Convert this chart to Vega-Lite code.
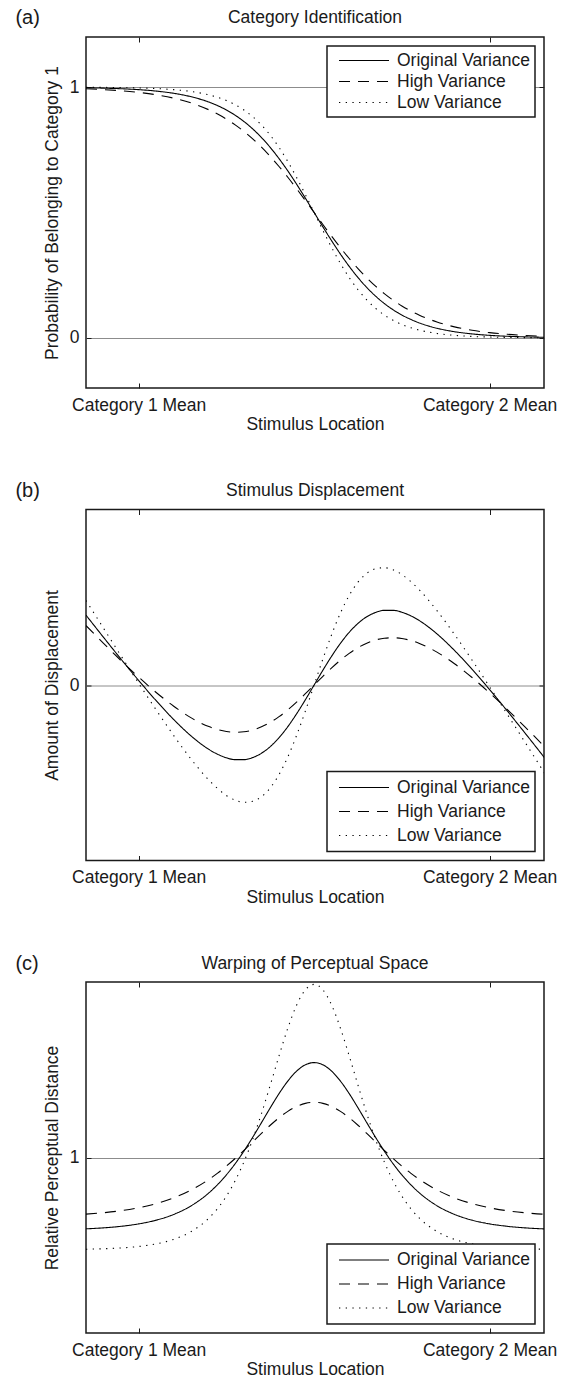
{
"$schema": "https://vega.github.io/schema/vega-lite/v6.json",
"padding": {"left": 14, "top": 7, "right": 4, "bottom": 0},
"background": "white",
"config": {
  "font": "Liberation Sans",
  "view": {"stroke": "#1a1a1a", "strokeWidth": 1.5},
  "axis": {"labelFont": "Liberation Sans", "titleFont": "Liberation Sans", "labelFontSize": 17.5, "titleFontSize": 17.5, "titleFontWeight": "normal", "labelColor": "#1a1a1a", "titleColor": "#1a1a1a", "tickColor": "#1a1a1a", "tickSize": -5, "tickWidth": 1, "domain": false, "grid": false, "labelFlush": false, "labelOverlap": false, "format": "d"},
  "legend": {"strokeColor": "#1a1a1a", "strokeWidth": 1.5, "fillColor": "white", "padding": 5, "offset": 9, "symbolType": "stroke", "symbolSize": 2500, "symbolStrokeWidth": 1.1, "symbolStrokeColor": "black", "labelFont": "Liberation Sans", "labelFontSize": 17.5, "labelColor": "#1a1a1a", "clipHeight": 19, "rowPadding": 2, "symbolOffset": 6, "labelOffset": 7, "labelLimit": 400},
  "title": {"font": "Liberation Sans", "fontSize": 17.5, "fontWeight": "normal", "color": "#1a1a1a", "frame": "group", "anchor": "middle", "offset": -18.5}
},
"spacing": 121.5,
"bounds": "flush",
"resolve": {"scale": {"strokeDash": "independent"}, "legend": {"strokeDash": "independent"}},
"datasets": {
"a": [
{"x":-0.15,"y":0.9975,"s":"Original Variance"},{"x":-0.1,"y":0.996,"s":"Original Variance"},{"x":-0.05,"y":0.9937,"s":"Original Variance"},{"x":0,"y":0.99,"s":"Original Variance"},{"x":0.05,"y":0.9843,"s":"Original Variance"},{"x":0.1,"y":0.9754,"s":"Original Variance"},{"x":0.15,"y":0.9616,"s":"Original Variance"},{"x":0.2,"y":0.9405,"s":"Original Variance"},{"x":0.225,"y":0.9262,"s":"Original Variance"},{"x":0.25,"y":0.9089,"s":"Original Variance"},{"x":0.275,"y":0.888,"s":"Original Variance"},{"x":0.3,"y":0.863,"s":"Original Variance"},{"x":0.325,"y":0.8334,"s":"Original Variance"},{"x":0.35,"y":0.799,"s":"Original Variance"},{"x":0.375,"y":0.7595,"s":"Original Variance"},{"x":0.4,"y":0.715,"s":"Original Variance"},{"x":0.425,"y":0.666,"s":"Original Variance"},{"x":0.45,"y":0.613,"s":"Original Variance"},{"x":0.475,"y":0.5573,"s":"Original Variance"},{"x":0.5,"y":0.5,"s":"Original Variance"},{"x":0.525,"y":0.4427,"s":"Original Variance"},{"x":0.55,"y":0.387,"s":"Original Variance"},{"x":0.575,"y":0.334,"s":"Original Variance"},{"x":0.6,"y":0.285,"s":"Original Variance"},{"x":0.625,"y":0.2405,"s":"Original Variance"},{"x":0.65,"y":0.201,"s":"Original Variance"},{"x":0.675,"y":0.1666,"s":"Original Variance"},{"x":0.7,"y":0.137,"s":"Original Variance"},{"x":0.725,"y":0.112,"s":"Original Variance"},{"x":0.75,"y":0.0911,"s":"Original Variance"},{"x":0.775,"y":0.0738,"s":"Original Variance"},{"x":0.8,"y":0.0595,"s":"Original Variance"},{"x":0.85,"y":0.0384,"s":"Original Variance"},{"x":0.9,"y":0.0246,"s":"Original Variance"},{"x":0.95,"y":0.0157,"s":"Original Variance"},{"x":1,"y":0.01,"s":"Original Variance"},{"x":1.05,"y":0.0063,"s":"Original Variance"},{"x":1.1,"y":0.004,"s":"Original Variance"},{"x":1.15,"y":0.0025,"s":"Original Variance"},{"x":1.16,"y":0.0023,"s":"Original Variance"},
{"x":-0.15,"y":0.9933,"s":"High Variance"},{"x":-0.1,"y":0.9902,"s":"High Variance"},{"x":-0.05,"y":0.9857,"s":"High Variance"},{"x":0,"y":0.9792,"s":"High Variance"},{"x":0.05,"y":0.9697,"s":"High Variance"},{"x":0.1,"y":0.9561,"s":"High Variance"},{"x":0.15,"y":0.9367,"s":"High Variance"},{"x":0.2,"y":0.9097,"s":"High Variance"},{"x":0.225,"y":0.8926,"s":"High Variance"},{"x":0.25,"y":0.8727,"s":"High Variance"},{"x":0.275,"y":0.8497,"s":"High Variance"},{"x":0.3,"y":0.8235,"s":"High Variance"},{"x":0.325,"y":0.7937,"s":"High Variance"},{"x":0.35,"y":0.7604,"s":"High Variance"},{"x":0.375,"y":0.7236,"s":"High Variance"},{"x":0.4,"y":0.6835,"s":"High Variance"},{"x":0.425,"y":0.6405,"s":"High Variance"},{"x":0.45,"y":0.5951,"s":"High Variance"},{"x":0.475,"y":0.548,"s":"High Variance"},{"x":0.5,"y":0.5,"s":"High Variance"},{"x":0.525,"y":0.452,"s":"High Variance"},{"x":0.55,"y":0.4049,"s":"High Variance"},{"x":0.575,"y":0.3595,"s":"High Variance"},{"x":0.6,"y":0.3165,"s":"High Variance"},{"x":0.625,"y":0.2764,"s":"High Variance"},{"x":0.65,"y":0.2396,"s":"High Variance"},{"x":0.675,"y":0.2063,"s":"High Variance"},{"x":0.7,"y":0.1765,"s":"High Variance"},{"x":0.725,"y":0.1503,"s":"High Variance"},{"x":0.75,"y":0.1273,"s":"High Variance"},{"x":0.775,"y":0.1074,"s":"High Variance"},{"x":0.8,"y":0.0903,"s":"High Variance"},{"x":0.85,"y":0.0633,"s":"High Variance"},{"x":0.9,"y":0.0439,"s":"High Variance"},{"x":0.95,"y":0.0303,"s":"High Variance"},{"x":1,"y":0.0208,"s":"High Variance"},{"x":1.05,"y":0.0143,"s":"High Variance"},{"x":1.1,"y":0.0098,"s":"High Variance"},{"x":1.15,"y":0.0067,"s":"High Variance"},{"x":1.16,"y":0.0062,"s":"High Variance"},
{"x":-0.15,"y":0.9994,"s":"Low Variance"},{"x":-0.1,"y":0.999,"s":"Low Variance"},{"x":-0.05,"y":0.9982,"s":"Low Variance"},{"x":0,"y":0.9968,"s":"Low Variance"},{"x":0.05,"y":0.9944,"s":"Low Variance"},{"x":0.1,"y":0.99,"s":"Low Variance"},{"x":0.15,"y":0.9825,"s":"Low Variance"},{"x":0.2,"y":0.9692,"s":"Low Variance"},{"x":0.225,"y":0.9594,"s":"Low Variance"},{"x":0.25,"y":0.9466,"s":"Low Variance"},{"x":0.275,"y":0.9301,"s":"Low Variance"},{"x":0.3,"y":0.9089,"s":"Low Variance"},{"x":0.325,"y":0.8821,"s":"Low Variance"},{"x":0.35,"y":0.8488,"s":"Low Variance"},{"x":0.375,"y":0.8081,"s":"Low Variance"},{"x":0.4,"y":0.7595,"s":"Low Variance"},{"x":0.425,"y":0.7032,"s":"Low Variance"},{"x":0.45,"y":0.6399,"s":"Low Variance"},{"x":0.475,"y":0.5714,"s":"Low Variance"},{"x":0.5,"y":0.5,"s":"Low Variance"},{"x":0.525,"y":0.4286,"s":"Low Variance"},{"x":0.55,"y":0.3601,"s":"Low Variance"},{"x":0.575,"y":0.2968,"s":"Low Variance"},{"x":0.6,"y":0.2405,"s":"Low Variance"},{"x":0.625,"y":0.1919,"s":"Low Variance"},{"x":0.65,"y":0.1512,"s":"Low Variance"},{"x":0.675,"y":0.1179,"s":"Low Variance"},{"x":0.7,"y":0.0911,"s":"Low Variance"},{"x":0.725,"y":0.0699,"s":"Low Variance"},{"x":0.75,"y":0.0534,"s":"Low Variance"},{"x":0.775,"y":0.0406,"s":"Low Variance"},{"x":0.8,"y":0.0308,"s":"Low Variance"},{"x":0.85,"y":0.0176,"s":"Low Variance"},{"x":0.9,"y":0.01,"s":"Low Variance"},{"x":0.95,"y":0.0056,"s":"Low Variance"},{"x":1,"y":0.0032,"s":"Low Variance"},{"x":1.05,"y":0.0018,"s":"Low Variance"},{"x":1.1,"y":0.001,"s":"Low Variance"},{"x":1.15,"y":0.0006,"s":"Low Variance"},{"x":1.16,"y":0.0005,"s":"Low Variance"}
],
"b": [
{"x":-0.15,"y":0.398,"s":"Original Variance"},{"x":-0.1,"y":0.2714,"s":"Original Variance"},{"x":-0.05,"y":0.1469,"s":"Original Variance"},{"x":0,"y":0.026,"s":"Original Variance"},{"x":0.05,"y":-0.0896,"s":"Original Variance"},{"x":0.1,"y":-0.1968,"s":"Original Variance"},{"x":0.15,"y":-0.2913,"s":"Original Variance"},{"x":0.2,"y":-0.3667,"s":"Original Variance"},{"x":0.225,"y":-0.3946,"s":"Original Variance"},{"x":0.25,"y":-0.4147,"s":"Original Variance"},{"x":0.275,"y":-0.4254,"s":"Original Variance"},{"x":0.3,"y":-0.4254,"s":"Original Variance"},{"x":0.325,"y":-0.4134,"s":"Original Variance"},{"x":0.35,"y":-0.3889,"s":"Original Variance"},{"x":0.375,"y":-0.351,"s":"Original Variance"},{"x":0.4,"y":-0.3002,"s":"Original Variance"},{"x":0.425,"y":-0.2375,"s":"Original Variance"},{"x":0.45,"y":-0.1644,"s":"Original Variance"},{"x":0.475,"y":-0.0843,"s":"Original Variance"},{"x":0.5,"y":0,"s":"Original Variance"},{"x":0.525,"y":0.0843,"s":"Original Variance"},{"x":0.55,"y":0.1644,"s":"Original Variance"},{"x":0.575,"y":0.2375,"s":"Original Variance"},{"x":0.6,"y":0.3002,"s":"Original Variance"},{"x":0.625,"y":0.351,"s":"Original Variance"},{"x":0.65,"y":0.3889,"s":"Original Variance"},{"x":0.675,"y":0.4134,"s":"Original Variance"},{"x":0.7,"y":0.4254,"s":"Original Variance"},{"x":0.725,"y":0.4254,"s":"Original Variance"},{"x":0.75,"y":0.4147,"s":"Original Variance"},{"x":0.775,"y":0.3946,"s":"Original Variance"},{"x":0.8,"y":0.3667,"s":"Original Variance"},{"x":0.85,"y":0.2913,"s":"Original Variance"},{"x":0.9,"y":0.1968,"s":"Original Variance"},{"x":0.95,"y":0.0896,"s":"Original Variance"},{"x":1,"y":-0.026,"s":"Original Variance"},{"x":1.05,"y":-0.1469,"s":"Original Variance"},{"x":1.1,"y":-0.2714,"s":"Original Variance"},{"x":1.15,"y":-0.398,"s":"Original Variance"},{"x":1.16,"y":-0.4236,"s":"Original Variance"},
{"x":-0.15,"y":0.3384,"s":"High Variance"},{"x":-0.1,"y":0.2371,"s":"High Variance"},{"x":-0.05,"y":0.1388,"s":"High Variance"},{"x":0,"y":0.045,"s":"High Variance"},{"x":0.05,"y":-0.0425,"s":"High Variance"},{"x":0.1,"y":-0.1211,"s":"High Variance"},{"x":0.15,"y":-0.1873,"s":"High Variance"},{"x":0.2,"y":-0.237,"s":"High Variance"},{"x":0.225,"y":-0.254,"s":"High Variance"},{"x":0.25,"y":-0.265,"s":"High Variance"},{"x":0.275,"y":-0.2694,"s":"High Variance"},{"x":0.3,"y":-0.2668,"s":"High Variance"},{"x":0.325,"y":-0.2564,"s":"High Variance"},{"x":0.35,"y":-0.2385,"s":"High Variance"},{"x":0.375,"y":-0.213,"s":"High Variance"},{"x":0.4,"y":-0.1804,"s":"High Variance"},{"x":0.425,"y":-0.1415,"s":"High Variance"},{"x":0.45,"y":-0.0974,"s":"High Variance"},{"x":0.475,"y":-0.0497,"s":"High Variance"},{"x":0.5,"y":0,"s":"High Variance"},{"x":0.525,"y":0.0497,"s":"High Variance"},{"x":0.55,"y":0.0974,"s":"High Variance"},{"x":0.575,"y":0.1415,"s":"High Variance"},{"x":0.6,"y":0.1804,"s":"High Variance"},{"x":0.625,"y":0.213,"s":"High Variance"},{"x":0.65,"y":0.2385,"s":"High Variance"},{"x":0.675,"y":0.2564,"s":"High Variance"},{"x":0.7,"y":0.2668,"s":"High Variance"},{"x":0.725,"y":0.2694,"s":"High Variance"},{"x":0.75,"y":0.265,"s":"High Variance"},{"x":0.775,"y":0.254,"s":"High Variance"},{"x":0.8,"y":0.237,"s":"High Variance"},{"x":0.85,"y":0.1873,"s":"High Variance"},{"x":0.9,"y":0.1211,"s":"High Variance"},{"x":0.95,"y":0.0425,"s":"High Variance"},{"x":1,"y":-0.045,"s":"High Variance"},{"x":1.05,"y":-0.1388,"s":"High Variance"},{"x":1.1,"y":-0.2371,"s":"High Variance"},{"x":1.15,"y":-0.3384,"s":"High Variance"},{"x":1.16,"y":-0.359,"s":"High Variance"},
{"x":-0.15,"y":0.4818,"s":"Low Variance"},{"x":-0.1,"y":0.3232,"s":"Low Variance"},{"x":-0.05,"y":0.1657,"s":"Low Variance"},{"x":0,"y":0.0102,"s":"Low Variance"},{"x":0.05,"y":-0.142,"s":"Low Variance"},{"x":0.1,"y":-0.2882,"s":"Low Variance"},{"x":0.15,"y":-0.4238,"s":"Low Variance"},{"x":0.2,"y":-0.5415,"s":"Low Variance"},{"x":0.225,"y":-0.5901,"s":"Low Variance"},{"x":0.25,"y":-0.6292,"s":"Low Variance"},{"x":0.275,"y":-0.6562,"s":"Low Variance"},{"x":0.3,"y":-0.6684,"s":"Low Variance"},{"x":0.325,"y":-0.6627,"s":"Low Variance"},{"x":0.35,"y":-0.6362,"s":"Low Variance"},{"x":0.375,"y":-0.5859,"s":"Low Variance"},{"x":0.4,"y":-0.5104,"s":"Low Variance"},{"x":0.425,"y":-0.4102,"s":"Low Variance"},{"x":0.45,"y":-0.2877,"s":"Low Variance"},{"x":0.475,"y":-0.1485,"s":"Low Variance"},{"x":0.5,"y":0,"s":"Low Variance"},{"x":0.525,"y":0.1485,"s":"Low Variance"},{"x":0.55,"y":0.2877,"s":"Low Variance"},{"x":0.575,"y":0.4102,"s":"Low Variance"},{"x":0.6,"y":0.5104,"s":"Low Variance"},{"x":0.625,"y":0.5859,"s":"Low Variance"},{"x":0.65,"y":0.6362,"s":"Low Variance"},{"x":0.675,"y":0.6627,"s":"Low Variance"},{"x":0.7,"y":0.6684,"s":"Low Variance"},{"x":0.725,"y":0.6562,"s":"Low Variance"},{"x":0.75,"y":0.6292,"s":"Low Variance"},{"x":0.775,"y":0.5901,"s":"Low Variance"},{"x":0.8,"y":0.5415,"s":"Low Variance"},{"x":0.85,"y":0.4238,"s":"Low Variance"},{"x":0.9,"y":0.2882,"s":"Low Variance"},{"x":0.95,"y":0.142,"s":"Low Variance"},{"x":1,"y":-0.0102,"s":"Low Variance"},{"x":1.05,"y":-0.1657,"s":"Low Variance"},{"x":1.1,"y":-0.3232,"s":"Low Variance"},{"x":1.15,"y":-0.4818,"s":"Low Variance"},{"x":1.16,"y":-0.5136,"s":"Low Variance"}
],
"c": [
{"x":-0.15,"y":0.5936,"s":"Original Variance"},{"x":-0.1,"y":0.5992,"s":"Original Variance"},{"x":-0.05,"y":0.608,"s":"Original Variance"},{"x":0,"y":0.6217,"s":"Original Variance"},{"x":0.05,"y":0.643,"s":"Original Variance"},{"x":0.1,"y":0.6758,"s":"Original Variance"},{"x":0.15,"y":0.7253,"s":"Original Variance"},{"x":0.2,"y":0.7982,"s":"Original Variance"},{"x":0.225,"y":0.8456,"s":"Original Variance"},{"x":0.25,"y":0.9009,"s":"Original Variance"},{"x":0.275,"y":0.9646,"s":"Original Variance"},{"x":0.3,"y":1.0365,"s":"Original Variance"},{"x":0.325,"y":1.1153,"s":"Original Variance"},{"x":0.35,"y":1.1986,"s":"Original Variance"},{"x":0.375,"y":1.283,"s":"Original Variance"},{"x":0.4,"y":1.364,"s":"Original Variance"},{"x":0.425,"y":1.4352,"s":"Original Variance"},{"x":0.45,"y":1.4918,"s":"Original Variance"},{"x":0.475,"y":1.5282,"s":"Original Variance"},{"x":0.5,"y":1.5408,"s":"Original Variance"},{"x":0.525,"y":1.5282,"s":"Original Variance"},{"x":0.55,"y":1.4918,"s":"Original Variance"},{"x":0.575,"y":1.4352,"s":"Original Variance"},{"x":0.6,"y":1.364,"s":"Original Variance"},{"x":0.625,"y":1.283,"s":"Original Variance"},{"x":0.65,"y":1.1986,"s":"Original Variance"},{"x":0.675,"y":1.1153,"s":"Original Variance"},{"x":0.7,"y":1.0365,"s":"Original Variance"},{"x":0.725,"y":0.9646,"s":"Original Variance"},{"x":0.75,"y":0.9009,"s":"Original Variance"},{"x":0.775,"y":0.8456,"s":"Original Variance"},{"x":0.8,"y":0.7982,"s":"Original Variance"},{"x":0.85,"y":0.7253,"s":"Original Variance"},{"x":0.9,"y":0.6758,"s":"Original Variance"},{"x":0.95,"y":0.643,"s":"Original Variance"},{"x":1,"y":0.6217,"s":"Original Variance"},{"x":1.05,"y":0.608,"s":"Original Variance"},{"x":1.1,"y":0.5992,"s":"Original Variance"},{"x":1.15,"y":0.5936,"s":"Original Variance"},{"x":1.16,"y":0.5928,"s":"Original Variance"},
{"x":-0.15,"y":0.6773,"s":"High Variance"},{"x":-0.1,"y":0.6853,"s":"High Variance"},{"x":-0.05,"y":0.6968,"s":"High Variance"},{"x":0,"y":0.7134,"s":"High Variance"},{"x":0.05,"y":0.737,"s":"High Variance"},{"x":0.1,"y":0.77,"s":"High Variance"},{"x":0.15,"y":0.8152,"s":"High Variance"},{"x":0.2,"y":0.8751,"s":"High Variance"},{"x":0.225,"y":0.911,"s":"High Variance"},{"x":0.25,"y":0.9509,"s":"High Variance"},{"x":0.275,"y":0.9943,"s":"High Variance"},{"x":0.3,"y":1.0405,"s":"High Variance"},{"x":0.325,"y":1.0887,"s":"High Variance"},{"x":0.35,"y":1.137,"s":"High Variance"},{"x":0.375,"y":1.1836,"s":"High Variance"},{"x":0.4,"y":1.2264,"s":"High Variance"},{"x":0.425,"y":1.2628,"s":"High Variance"},{"x":0.45,"y":1.2908,"s":"High Variance"},{"x":0.475,"y":1.3085,"s":"High Variance"},{"x":0.5,"y":1.3145,"s":"High Variance"},{"x":0.525,"y":1.3085,"s":"High Variance"},{"x":0.55,"y":1.2908,"s":"High Variance"},{"x":0.575,"y":1.2628,"s":"High Variance"},{"x":0.6,"y":1.2264,"s":"High Variance"},{"x":0.625,"y":1.1836,"s":"High Variance"},{"x":0.65,"y":1.137,"s":"High Variance"},{"x":0.675,"y":1.0887,"s":"High Variance"},{"x":0.7,"y":1.0405,"s":"High Variance"},{"x":0.725,"y":0.9943,"s":"High Variance"},{"x":0.75,"y":0.9509,"s":"High Variance"},{"x":0.775,"y":0.911,"s":"High Variance"},{"x":0.8,"y":0.8751,"s":"High Variance"},{"x":0.85,"y":0.8152,"s":"High Variance"},{"x":0.9,"y":0.77,"s":"High Variance"},{"x":0.95,"y":0.737,"s":"High Variance"},{"x":1,"y":0.7134,"s":"High Variance"},{"x":1.05,"y":0.6968,"s":"High Variance"},{"x":1.1,"y":0.6853,"s":"High Variance"},{"x":1.15,"y":0.6773,"s":"High Variance"},{"x":1.16,"y":0.6762,"s":"High Variance"},
{"x":-0.15,"y":0.4774,"s":"Low Variance"},{"x":-0.1,"y":0.4801,"s":"Low Variance"},{"x":-0.05,"y":0.4848,"s":"Low Variance"},{"x":0,"y":0.4931,"s":"Low Variance"},{"x":0.05,"y":0.5078,"s":"Low Variance"},{"x":0.1,"y":0.5336,"s":"Low Variance"},{"x":0.15,"y":0.5783,"s":"Low Variance"},{"x":0.2,"y":0.6544,"s":"Low Variance"},{"x":0.225,"y":0.7096,"s":"Low Variance"},{"x":0.25,"y":0.7797,"s":"Low Variance"},{"x":0.275,"y":0.8674,"s":"Low Variance"},{"x":0.3,"y":0.975,"s":"Low Variance"},{"x":0.325,"y":1.1031,"s":"Low Variance"},{"x":0.35,"y":1.2503,"s":"Low Variance"},{"x":0.375,"y":1.412,"s":"Low Variance"},{"x":0.4,"y":1.5789,"s":"Low Variance"},{"x":0.425,"y":1.7365,"s":"Low Variance"},{"x":0.45,"y":1.8679,"s":"Low Variance"},{"x":0.475,"y":1.9554,"s":"Low Variance"},{"x":0.5,"y":1.9863,"s":"Low Variance"},{"x":0.525,"y":1.9554,"s":"Low Variance"},{"x":0.55,"y":1.8679,"s":"Low Variance"},{"x":0.575,"y":1.7365,"s":"Low Variance"},{"x":0.6,"y":1.5789,"s":"Low Variance"},{"x":0.625,"y":1.412,"s":"Low Variance"},{"x":0.65,"y":1.2503,"s":"Low Variance"},{"x":0.675,"y":1.1031,"s":"Low Variance"},{"x":0.7,"y":0.975,"s":"Low Variance"},{"x":0.725,"y":0.8674,"s":"Low Variance"},{"x":0.75,"y":0.7797,"s":"Low Variance"},{"x":0.775,"y":0.7096,"s":"Low Variance"},{"x":0.8,"y":0.6544,"s":"Low Variance"},{"x":0.85,"y":0.5783,"s":"Low Variance"},{"x":0.9,"y":0.5336,"s":"Low Variance"},{"x":0.95,"y":0.5078,"s":"Low Variance"},{"x":1,"y":0.4931,"s":"Low Variance"},{"x":1.05,"y":0.4848,"s":"Low Variance"},{"x":1.1,"y":0.4801,"s":"Low Variance"},{"x":1.15,"y":0.4774,"s":"Low Variance"},{"x":1.16,"y":0.477,"s":"Low Variance"}
],
"lab_a": [{"label": "(a)"}],
"lab_b": [{"label": "(b)"}],
"lab_c": [{"label": "(c)"}]
},
"vconcat": [
{
  "width": 458, "height": 351,
  "title": "Category Identification",
  "resolve": {"axis": {"x": "independent", "y": "independent"}},
  "layer": [
    {
      "data": {"name": "a"},
      "mark": {"type": "line", "color": "black", "strokeWidth": 1.1, "interpolate": "monotone", "clip": true},
      "encoding": {
        "x": {"field": "x", "type": "quantitative", "scale": {"domain": [-0.15, 1.155], "nice": false, "zero": false},
              "axis": {"orient": "bottom", "values": [0, 1], "labelExpr": "datum.value < 0.5 ? 'Category 1 Mean' : 'Category 2 Mean'", "title": "Stimulus Location", "labelPadding": 13, "titlePadding": 2}},
        "y": {"field": "y", "type": "quantitative", "scale": {"domain": [-0.2, 1.2], "nice": false, "zero": false},
              "axis": {"orient": "left", "values": [0, 1], "format": "d", "grid": true, "gridColor": "#8c8c8c", "gridWidth": 1, "title": "Probability of Belonging to Category 1", "labelPadding": 12, "titlePadding": 8}},
        "strokeDash": {"field": "s", "type": "nominal", "scale": {"domain": ["Original Variance", "High Variance", "Low Variance"], "range": [[1, 0], [11, 8], [1.3, 5.4]]},
              "legend": {"orient": "top-right", "title": null}}
      }
    },
    {
      "data": {"name": "lab_a"},
      "mark": {"type": "text", "fontSize": 20, "align": "left", "baseline": "middle", "color": "#1a1a1a", "clip": false},
      "encoding": {
        "text": {"field": "label"},
        "x": {"datum": -0.351, "type": "quantitative", "axis": {"orient": "top", "values": [0, 1], "labels": false, "title": null}},
        "y": {"datum": 1.274, "type": "quantitative", "axis": {"orient": "right", "values": [0, 1], "labels": false, "title": null}}
      }
    }
  ]
},
{
  "width": 458, "height": 351,
  "title": "Stimulus Displacement",
  "resolve": {"axis": {"x": "independent", "y": "independent"}},
  "layer": [
    {
      "data": {"name": "b"},
      "mark": {"type": "line", "color": "black", "strokeWidth": 1.1, "interpolate": "monotone", "clip": true},
      "encoding": {
        "x": {"field": "x", "type": "quantitative", "scale": {"domain": [-0.15, 1.155], "nice": false, "zero": false},
              "axis": {"orient": "bottom", "values": [0, 1], "labelExpr": "datum.value < 0.5 ? 'Category 1 Mean' : 'Category 2 Mean'", "title": "Stimulus Location", "labelPadding": 13, "titlePadding": 2}},
        "y": {"field": "y", "type": "quantitative", "scale": {"domain": [-1, 1], "nice": false, "zero": false},
              "axis": {"orient": "left", "values": [0], "format": "d", "grid": true, "gridColor": "#8c8c8c", "gridWidth": 1, "title": "Amount of Displacement", "labelPadding": 12, "titlePadding": 8}},
        "strokeDash": {"field": "s", "type": "nominal", "scale": {"domain": ["Original Variance", "High Variance", "Low Variance"], "range": [[1, 0], [11, 8], [1.3, 5.4]]},
              "legend": {"orient": "bottom-right", "title": null, "clipHeight": 22}}
      }
    },
    {
      "data": {"name": "lab_b"},
      "mark": {"type": "text", "fontSize": 20, "align": "left", "baseline": "middle", "color": "#1a1a1a", "clip": false},
      "encoding": {
        "text": {"field": "label"},
        "x": {"datum": -0.351, "type": "quantitative", "axis": {"orient": "top", "values": [0, 1], "labels": false, "title": null}},
        "y": {"datum": 1.105, "type": "quantitative", "axis": {"orient": "right", "values": [0], "labels": false, "title": null}}
      }
    }
  ]
},
{
  "width": 458, "height": 351,
  "title": "Warping of Perceptual Space",
  "resolve": {"axis": {"x": "independent", "y": "independent"}},
  "layer": [
    {
      "data": {"name": "c"},
      "mark": {"type": "line", "color": "black", "strokeWidth": 1.1, "interpolate": "monotone", "clip": true},
      "encoding": {
        "x": {"field": "x", "type": "quantitative", "scale": {"domain": [-0.15, 1.155], "nice": false, "zero": false},
              "axis": {"orient": "bottom", "values": [0, 1], "labelExpr": "datum.value < 0.5 ? 'Category 1 Mean' : 'Category 2 Mean'", "title": "Stimulus Location", "labelPadding": 13, "titlePadding": 2}},
        "y": {"field": "y", "type": "quantitative", "scale": {"domain": [0, 2], "nice": false, "zero": false},
              "axis": {"orient": "left", "values": [1], "format": "d", "grid": true, "gridColor": "#8c8c8c", "gridWidth": 1, "title": "Relative Perceptual Distance", "labelPadding": 12, "titlePadding": 8}},
        "strokeDash": {"field": "s", "type": "nominal", "scale": {"domain": ["Original Variance", "High Variance", "Low Variance"], "range": [[1, 0], [11, 8], [1.3, 5.4]]},
              "legend": {"orient": "bottom-right", "title": null, "clipHeight": 22}}
      }
    },
    {
      "data": {"name": "lab_c"},
      "mark": {"type": "text", "fontSize": 20, "align": "left", "baseline": "middle", "color": "#1a1a1a", "clip": false},
      "encoding": {
        "text": {"field": "label"},
        "x": {"datum": -0.351, "type": "quantitative", "axis": {"orient": "top", "values": [0, 1], "labels": false, "title": null}},
        "y": {"datum": 2.105, "type": "quantitative", "axis": {"orient": "right", "values": [1], "labels": false, "title": null}}
      }
    }
  ]
}
]
}
